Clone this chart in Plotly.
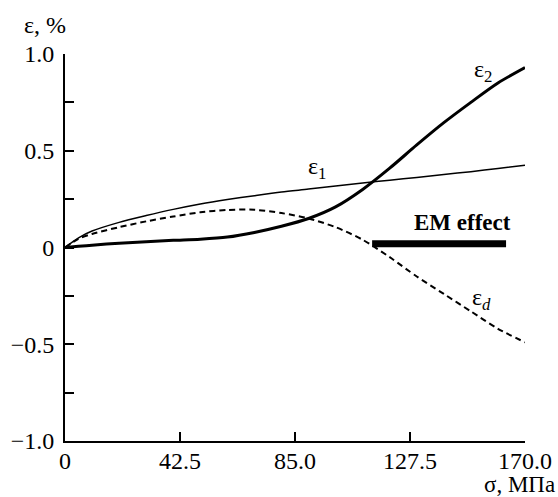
import plotly.graph_objects as go

# Data
sigma = [0, 5, 10, 20, 30, 40, 50, 60, 70, 80, 90, 100, 110, 120, 130, 140, 150, 160, 170]
eps1 = [0, 0.05, 0.085, 0.13, 0.165, 0.197, 0.225, 0.248, 0.268, 0.287, 0.302, 0.318,
        0.333, 0.348, 0.362, 0.377, 0.392, 0.408, 0.425]
eps2 = [0, 0.006, 0.012, 0.022, 0.030, 0.037, 0.043, 0.054, 0.078, 0.11, 0.15, 0.21,
        0.30, 0.41, 0.53, 0.645, 0.75, 0.85, 0.93]
epsd = [0, 0.045, 0.07, 0.105, 0.135, 0.16, 0.182, 0.194, 0.195, 0.178, 0.15, 0.105,
        0.04, -0.05, -0.15, -0.24, -0.33, -0.42, -0.49]
em_sigma = [113.5, 163]
em_eps = [0.02, 0.02]

x_ticks = [0, 42.5, 85.0, 127.5, 170.0]
x_ticktext = ["0", "42.5", "85.0", "127.5", "170.0"]
y_ticks = [-1.0, -0.5, 0, 0.5, 1.0]
y_ticktext = ["\u22121.0", "\u22120.5", "0", "0.5", "1.0"]
y_minor_step = 0.25

FONT = "'Liberation Serif', 'Times New Roman', Times, 'DejaVu Serif', serif"
L, R, T, B = 65, 33, 54, 56
W, H = 558, 497
PW, PH = W - L - R, H - T - B


def px_x(px):
    return (px - L) / PW


def px_y(py):
    return (H - B - py) / PH


fig = go.Figure()
fig.add_trace(go.Scatter(x=sigma, y=eps1, mode="lines",
                         line=dict(color="black", width=1.5, shape="spline", smoothing=0.8),
                         cliponaxis=False))
fig.add_trace(go.Scatter(x=sigma, y=eps2, mode="lines",
                         line=dict(color="black", width=3, shape="spline", smoothing=0.8),
                         cliponaxis=False))
fig.add_trace(go.Scatter(x=sigma, y=epsd, mode="lines",
                         line=dict(color="black", width=2, shape="spline", smoothing=0.8,
                                   dash="6px,4px"),
                         cliponaxis=False))
fig.add_trace(go.Scatter(x=em_sigma, y=em_eps, mode="lines",
                         line=dict(color="black", width=7), cliponaxis=False))

axis_common = dict(
    showgrid=False, zeroline=False, showline=True, linecolor="black", linewidth=2,
    ticks="inside", ticklen=9, tickwidth=1.5, tickcolor="black", automargin=False,
    tickfont=dict(family=FONT, size=24, color="black"), mirror=False,
)

fig.update_layout(
    template="none",
    width=W, height=H,
    margin=dict(l=L, r=R, t=T, b=B, pad=0),
    paper_bgcolor="white", plot_bgcolor="white",
    showlegend=False,
    xaxis=dict(range=[0, 170], tickmode="array", tickvals=x_ticks, ticktext=x_ticktext,
               ticklabelstandoff=-3, **axis_common),
    yaxis=dict(range=[-1, 1], tickmode="array", tickvals=y_ticks, ticktext=y_ticktext,
               ticklabelstandoff=4,
               minor=dict(dtick=y_minor_step, tick0=0, ticks="inside", ticklen=9,
                          tickwidth=1.5, tickcolor="black", showgrid=False),
               **axis_common),
    font=dict(family=FONT, color="black"),
)

tf = dict(family=FONT, size=24, color="black")
fig.update_layout(annotations=[
    dict(text="\u03b5, %", xref="paper", yref="paper", x=px_x(22), y=px_y(25),
         xanchor="left", yanchor="middle", showarrow=False, font=tf),
    dict(text="\u03c3, \u041c\u041f\u0430", xref="paper", yref="paper", x=px_x(557),
         y=px_y(485), xanchor="right", yanchor="middle", showarrow=False,
         font=dict(family=FONT, size=23, color="black")),
    dict(text="\u03b5<sub>1</sub>", x=93, y=0.41, showarrow=False,
         xanchor="center", yanchor="middle", font=tf),
    dict(text="\u03b5<sub>2</sub>", x=154.5, y=0.91, showarrow=False,
         xanchor="center", yanchor="middle", font=tf),
    dict(text="\u03b5<sub><i>d</i></sub>", x=154.0, y=-0.265, showarrow=False,
         xanchor="center", yanchor="middle", font=tf),
    dict(text="<b>EM effect</b>", x=147, y=0.127, showarrow=False,
         xanchor="center", yanchor="middle",
         font=dict(family=FONT, size=23, color="black")),
])

fig.write_html("out.html", config={"displayModeBar": False},
               post_script="document.body.style.margin='0';document.body.style.overflow='hidden';")
